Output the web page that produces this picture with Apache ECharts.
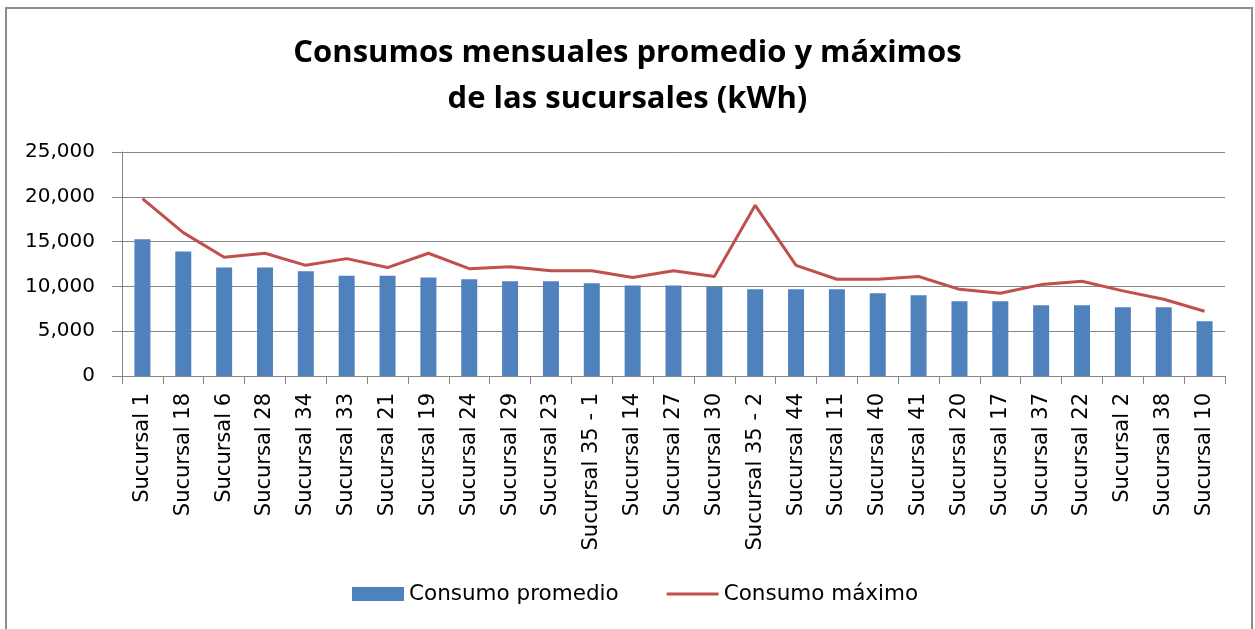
<!DOCTYPE html>
<html>
<head>
<meta charset="utf-8">
<script src="https://cdn.jsdelivr.net/npm/echarts@6/dist/echarts.min.js"></script>
<style>
  html, body { margin: 0; padding: 0; background: #fff; }
  #chart { width: 1255px; height: 629px; }
</style>
</head>
<body>
<div id="chart"></div>
<script>
// sucursales ordenadas por consumo promedio
const categories = [
  'Sucursal 1', 'Sucursal 18', 'Sucursal 6', 'Sucursal 28', 'Sucursal 34', 'Sucursal 33',
  'Sucursal 21', 'Sucursal 19', 'Sucursal 24', 'Sucursal 29', 'Sucursal 23', 'Sucursal 35 - 1',
  'Sucursal 14', 'Sucursal 27', 'Sucursal 30', 'Sucursal 35 - 2', 'Sucursal 44', 'Sucursal 11',
  'Sucursal 40', 'Sucursal 41', 'Sucursal 20', 'Sucursal 17', 'Sucursal 37', 'Sucursal 22',
  'Sucursal 2', 'Sucursal 38', 'Sucursal 10'
]
const consumoPromedio = [
  15250, 13900, 12100, 12100, 11700, 11200, 11200, 11000, 10800, 10570, 10570, 10350,
  10100, 10100, 9970, 9670, 9670, 9670, 9230, 9000, 8330, 8330, 7890, 7890, 7670, 7670, 6100
]
const consumoMaximo = [
  19800, 16000, 13250, 13700, 12350, 13100, 12100, 13700, 11980, 12200, 11750, 11750,
  11000, 11750, 11100, 19050, 12350, 10800, 10800, 11100, 9670, 9230, 10200, 10570, 9500, 8560, 7220
]
const yTicks = { min: 0, max: 25000, interval: 5000 }

const chart = echarts.init(document.getElementById('chart'))
const labelFont = 'DejaVu Sans, sans-serif'
const axisGray = '#868686'

chart.setOption({
  animation: false,
  backgroundColor: '#fff',
  title: {
    text: 'Consumos mensuales promedio y máximos\nde las sucursales (kWh)',
    left: 'center',
    top: 25,
    textStyle: {
      fontFamily: 'Open Sans, sans-serif',
      fontWeight: 'bold',
      fontSize: 31,
      lineHeight: 46,
      color: '#000'
    }
  },
  graphic: [{
    type: 'rect',
    shape: { x: 6, y: 8, width: 1246, height: 640 },
    style: { fill: 'none', stroke: '#8c8c8c', lineWidth: 2 },
    silent: true
  }],
  legend: {
    top: 578,
    left: 347,
    itemGap: 48,
    itemWidth: 52,
    itemHeight: 14,
    textStyle: { fontFamily: labelFont, fontSize: 21.5, color: '#000' },
    data: [
      { name: 'Consumo promedio', icon: 'rect' },
      { name: 'Consumo máximo', icon: 'path://M0,0 L52,0 L52,3 L0,3 Z' }
    ]
  },
  grid: { left: 122, right: 30, top: 152, height: 224 },
  xAxis: {
    type: 'category',
    data: categories,
    axisLine: { lineStyle: { color: axisGray } },
    axisTick: { show: true, length: 8, lineStyle: { color: axisGray } },
    axisLabel: {
      rotate: 90,
      interval: 0,
      fontFamily: labelFont,
      fontSize: 21,
      color: '#000',
      margin: 17
    }
  },
  yAxis: {
    type: 'value',
    min: yTicks.min,
    max: yTicks.max,
    interval: yTicks.interval,
    axisLine: { show: true, lineStyle: { color: axisGray } },
    axisTick: { show: true, length: 10, lineStyle: { color: axisGray } },
    splitLine: { lineStyle: { color: axisGray, width: 1 } },
    axisLabel: {
      fontFamily: labelFont,
      fontSize: 20,
      color: '#000',
      margin: 27,
      formatter: v => v.toLocaleString('en-US')
    }
  },
  series: [
    {
      name: 'Consumo promedio',
      type: 'bar',
      data: consumoPromedio,
      barWidth: 16,
      itemStyle: { color: '#4f81bd' }
    },
    {
      name: 'Consumo máximo',
      type: 'line',
      data: consumoMaximo,
      symbol: 'none',
      lineStyle: { color: '#c0504d', width: 3 },
      itemStyle: { color: '#c0504d' }
    }
  ]
})
</script>
</body>
</html>
